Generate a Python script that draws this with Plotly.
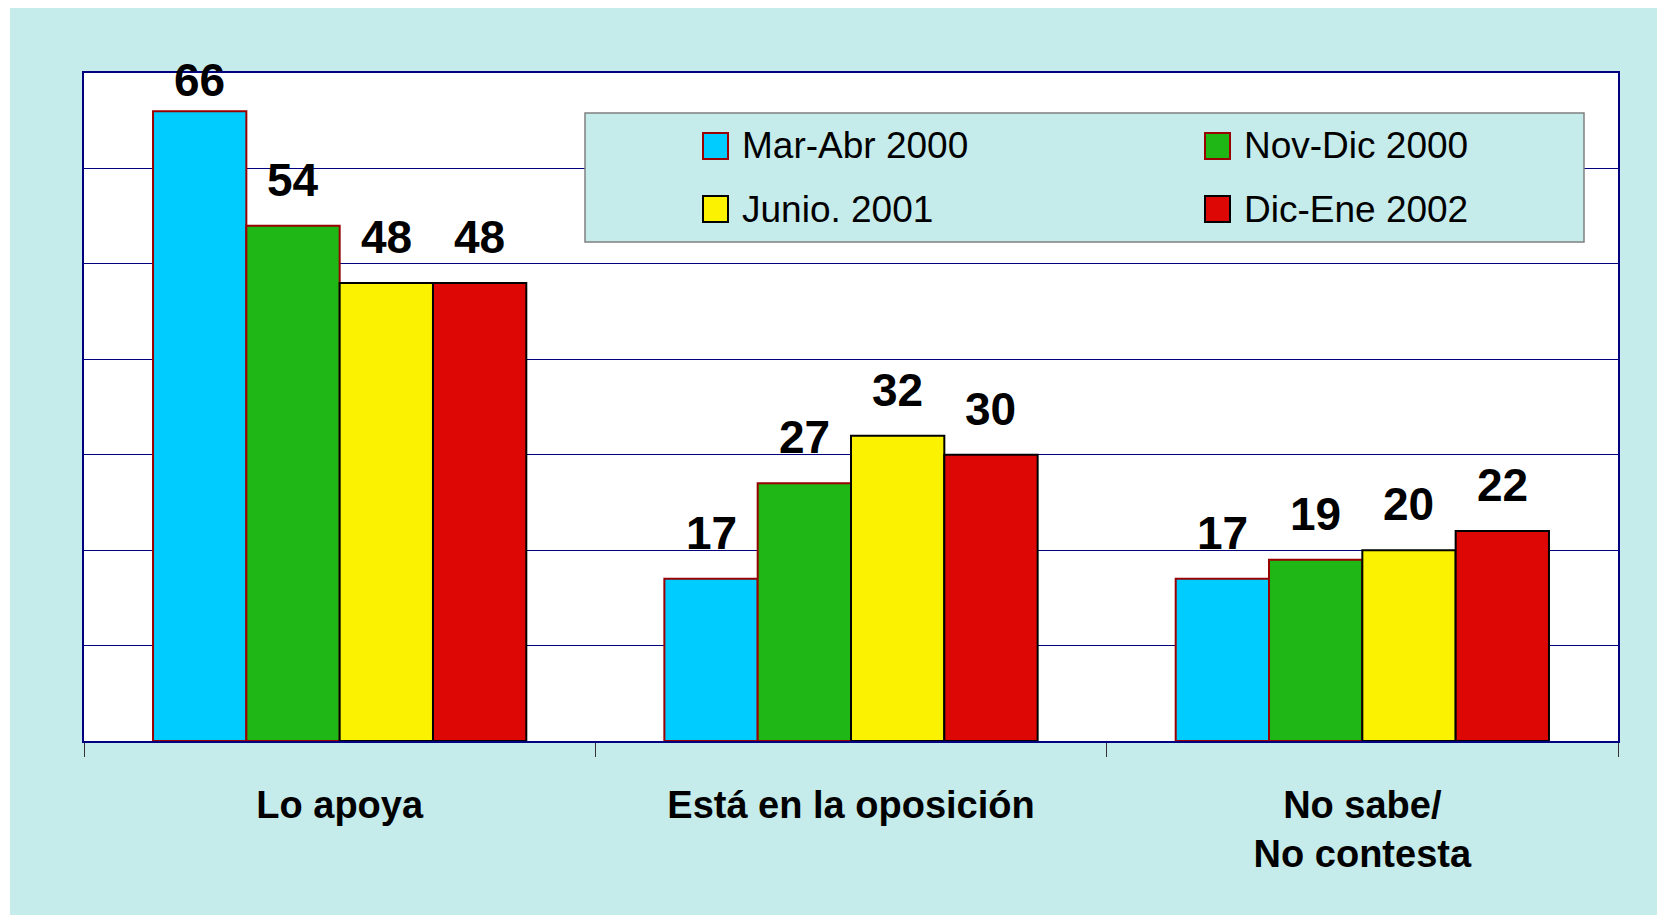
import plotly.graph_objects as go

# ---------------- data ----------------
categories = ["Lo apoya", "Está en la oposición", "No sabe/<br>No contesta"]
series_names = ["Mar-Abr 2000", "Nov-Dic 2000", "Junio. 2001", "Dic-Ene 2002"]
mar_abr_2000 = [66, 17, 17]
nov_dic_2000 = [54, 27, 19]
junio_2001 = [48, 32, 20]
dic_ene_2002 = [48, 30, 22]
series_values = [mar_abr_2000, nov_dic_2000, junio_2001, dic_ene_2002]

# ---------------- styles ----------------
fill_colors = ["#00CCFF", "#1FB716", "#FAF200", "#DD0806"]
edge_colors = ["#990000", "#990000", "#000000", "#000000"]
BG = "#C5ECEB"
NAVY = "#000080"
FONT = "Liberation Sans"

# page body has an 8px margin: the figure is drawn 8px in from the page corner
OFF = 8
W, H = 1665 - OFF, 923 - 2 * OFF
PLOT_L, PLOT_T, PLOT_R, PLOT_B = 84 - OFF, 73 - OFF, 1618 - OFF, 741 - OFF
ML, MT, MR, MB = PLOT_L, PLOT_T, W - PLOT_R, H - PLOT_B
PW, PH = PLOT_R - PLOT_L, PLOT_B - PLOT_T
YMAX = 70
BARGAP = 0.27


def px_x(p):
    """page pixel (reference coords) -> paper x"""
    return (p - OFF - ML) / PW


def px_y(p):
    """page pixel (reference coords) -> paper y"""
    return (PLOT_B - (p - OFF)) / PH


fig = go.Figure()
for name, vals, fc, ec in zip(series_names, series_values, fill_colors, edge_colors):
    fig.add_trace(go.Bar(
        name=name, x=categories, y=vals,
        marker=dict(color=fc, line=dict(color=ec, width=2)),
        showlegend=False, hoverinfo="x+y+name",
    ))

# value labels above bars
n = len(series_names)
bw = (1 - BARGAP) / n
px_per_unit = PH / YMAX
annotations = []
for j, vals in enumerate(series_values):
    off = -(1 - BARGAP) / 2 + (j + 0.5) * bw
    for i, v in enumerate(vals):
        room = (YMAX - v) * px_per_unit - 7
        shift = min(46, room)
        annotations.append(dict(
            x=i + off, y=v, xref="x", yref="y", text=str(v), showarrow=False,
            yanchor="middle", xanchor="center", yshift=shift,
            font=dict(family=FONT, size=46, color="black", weight="bold"),
        ))

shapes = [
    # white strip at the far left of the page (outside the cyan panel)
    dict(type="rect", xref="paper", yref="paper", layer="below",
         x0=px_x(0), x1=px_x(10), y0=px_y(930), y1=px_y(0),
         fillcolor="white", line=dict(width=0)),
    # legend box
    dict(type="rect", xref="paper", yref="paper", layer="above",
         x0=px_x(585), x1=px_x(1584), y0=px_y(242), y1=px_y(113),
         fillcolor=BG, line=dict(color="#808080", width=1.5)),
]
leg_cols = [703, 1205]
leg_rows = [146, 209]
for k, name in enumerate(series_names):
    cx = leg_cols[k % 2]
    cy = leg_rows[k // 2]
    shapes.append(dict(type="rect", xref="paper", yref="paper", layer="above",
                       x0=px_x(cx), x1=px_x(cx + 25), y0=px_y(cy + 13), y1=px_y(cy - 13),
                       fillcolor=fill_colors[k], line=dict(color=edge_colors[k], width=2)))
    annotations.append(dict(
        x=px_x(cx + 37), y=px_y(cy), xref="paper", yref="paper", text=name,
        showarrow=False, xanchor="left", yanchor="middle",
        font=dict(family=FONT, size=37, color="black"),
    ))

fig.update_layout(
    width=W, height=H,
    margin=dict(l=ML, r=MR, t=MT, b=MB),
    paper_bgcolor=BG, plot_bgcolor="white",
    barmode="group", bargap=BARGAP, bargroupgap=0,
    shapes=shapes, annotations=annotations,
    showlegend=False,
    xaxis=dict(
        type="category", showgrid=False,
        showline=True, linecolor=NAVY, linewidth=2, mirror=True,
        ticks="outside", tickson="boundaries", ticklen=14, tickcolor="#333333", tickwidth=1,
        tickfont=dict(family=FONT, size=38, color="black", weight="bold"),
        ticklabelstandoff=29,
    ),
    yaxis=dict(
        range=[0, YMAX], dtick=10, showticklabels=False, ticks="",
        showgrid=True, gridcolor=NAVY, gridwidth=1,
        showline=True, linecolor=NAVY, linewidth=2, mirror=True,
        zeroline=False,
    ),
)

fig.write_html("out.html")
